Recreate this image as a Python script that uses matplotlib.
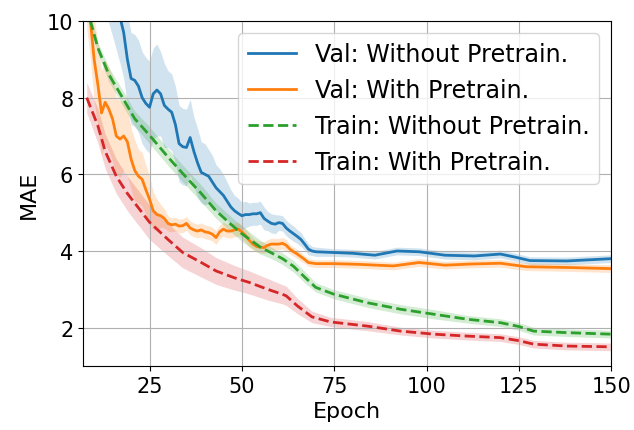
import numpy as np
import matplotlib.pyplot as plt

# ---- data ----
val_wo_ep = [8, 12, 15, 17, 18, 19, 20, 21, 22, 23, 24, 25, 26, 27, 28, 29, 30, 31, 32, 33,
             34, 35, 36, 37, 38, 39, 40, 41, 42, 43, 44, 45, 46, 47, 48, 49, 50, 51, 52, 53,
             54, 55, 56, 57, 58, 59, 60, 61, 62, 63, 64, 65, 66, 67, 68, 69, 70, 75, 80, 86,
             92, 98, 105, 113, 120, 124, 128, 138, 150]
val_wo = [13.5, 11.8, 10.8, 10.1, 9.7, 9.0, 8.5, 8.45, 8.3, 8.0, 7.85, 7.75, 8.1, 8.2, 8.1, 7.8, 7.7, 7.62, 7.3, 6.8,
          6.72, 6.7, 6.96, 6.6, 6.3, 6.05, 6.0, 5.95, 5.8, 5.65, 5.55, 5.45, 5.3, 5.15, 5.05, 4.98, 4.92, 4.95, 4.95, 4.97,
          4.97, 5.0, 4.85, 4.78, 4.72, 4.7, 4.74, 4.72, 4.6, 4.52, 4.45, 4.38, 4.3, 4.18, 4.05, 4.0, 3.98, 3.96, 3.94, 3.89,
          4.0, 3.98, 3.89, 3.87, 3.92, 3.84, 3.75, 3.74, 3.8]
val_wo_sd = [1.2, 1.2, 1.2, 1.2, 1.2, 1.2, 1.2, 1.2, 1.2, 1.2, 1.2, 1.2, 1.2, 1.2, 1.1, 1.1, 1.0, 1.0, 1.0, 1.0,
             1.0, 1.0, 1.0, 0.9, 0.9, 0.8, 0.8, 0.7, 0.7, 0.6, 0.6, 0.55, 0.5, 0.45, 0.4, 0.4, 0.35, 0.35, 0.3, 0.3,
             0.3, 0.3, 0.3, 0.25, 0.25, 0.25, 0.2, 0.2, 0.2, 0.2, 0.2, 0.18, 0.18, 0.15, 0.15, 0.12, 0.12, 0.1, 0.1, 0.1,
             0.1, 0.1, 0.1, 0.1, 0.1, 0.1, 0.1, 0.1, 0.1]

val_w_ep = [8, 9, 10, 11, 12, 13, 14, 15, 16, 17, 18, 19, 20, 21, 22, 23, 24, 25, 26, 27,
            28, 29, 30, 31, 32, 33, 34, 35, 36, 37, 38, 39, 40, 41, 42, 43, 44, 45, 46, 47,
            48, 49, 50, 51, 52, 53, 54, 55, 56, 57, 58, 59, 60, 61, 62, 63, 64, 65, 66, 67,
            68, 70, 75, 82, 91, 98, 105, 112, 120, 127, 138, 150]
val_w = [10.8, 10.0, 9.0, 8.35, 7.6, 7.88, 7.7, 7.44, 7.0, 6.92, 7.0, 6.85, 6.4, 6.1, 5.95, 5.87, 5.6, 5.35, 5.05, 4.95,
         4.92, 4.85, 4.72, 4.68, 4.7, 4.65, 4.66, 4.72, 4.6, 4.55, 4.52, 4.55, 4.5, 4.48, 4.44, 4.35, 4.5, 4.57, 4.52, 4.52,
         4.55, 4.57, 4.5, 4.4, 4.28, 4.18, 4.12, 4.1, 4.09, 4.15, 4.18, 4.18, 4.18, 4.2, 4.15, 4.05, 3.98, 3.92, 3.85, 3.78,
         3.7, 3.67, 3.67, 3.65, 3.61, 3.7, 3.63, 3.66, 3.68, 3.59, 3.57, 3.54]
val_w_sd = [1.0, 1.0, 1.1, 1.1, 1.1, 1.1, 1.1, 1.1, 1.0, 1.0, 0.9, 0.9, 0.8, 0.8, 0.7, 0.7, 0.65, 0.6, 0.5, 0.4,
            0.3, 0.25, 0.2, 0.18, 0.18, 0.18, 0.18, 0.18, 0.18, 0.18, 0.18, 0.18, 0.18, 0.18, 0.18, 0.18, 0.18, 0.18, 0.18, 0.18,
            0.18, 0.18, 0.18, 0.18, 0.18, 0.15, 0.15, 0.15, 0.15, 0.15, 0.15, 0.15, 0.15, 0.15, 0.15, 0.12, 0.12, 0.12, 0.12, 0.1,
            0.1, 0.1, 0.1, 0.1, 0.1, 0.1, 0.1, 0.1, 0.1, 0.1, 0.1, 0.1]

train_wo_ep = [8, 9, 11, 14, 18, 21, 25, 30, 34, 39, 43, 47, 50, 55, 58, 61, 64, 67, 70, 75,
               84, 93, 102, 111, 120, 125, 129, 138, 150]
train_wo = [10.4, 10.0, 9.3, 8.6, 7.95, 7.45, 7.02, 6.45, 6.02, 5.5, 5.05, 4.7, 4.45, 4.1, 3.95, 3.8, 3.6, 3.32, 3.05, 2.87,
            2.65, 2.48, 2.35, 2.22, 2.13, 2.03, 1.91, 1.87, 1.83]
train_wo_sd = [0.15, 0.15, 0.15, 0.18, 0.2, 0.2, 0.22, 0.22, 0.22, 0.22, 0.2, 0.2, 0.2, 0.18, 0.15, 0.15, 0.15, 0.15, 0.12, 0.12,
               0.12, 0.12, 0.12, 0.1, 0.1, 0.1, 0.1, 0.1, 0.1]

train_w_ep = [8, 11, 13, 16, 19, 21, 25, 30, 34, 39, 43, 48, 52, 57, 61, 62, 65, 69, 74, 84,
              93, 102, 111, 120, 125, 129, 138, 150]
train_w = [8.0, 7.27, 6.6, 5.95, 5.5, 5.25, 4.75, 4.3, 3.96, 3.7, 3.48, 3.3, 3.18, 3.0, 2.87, 2.83, 2.57, 2.28, 2.15, 2.04,
           1.91, 1.83, 1.78, 1.74, 1.66, 1.57, 1.52, 1.5]
train_w_sd = [0.4, 0.45, 0.45, 0.45, 0.45, 0.45, 0.45, 0.42, 0.4, 0.38, 0.35, 0.32, 0.3, 0.28, 0.25, 0.25, 0.2, 0.15, 0.12, 0.12,
              0.1, 0.1, 0.1, 0.1, 0.1, 0.1, 0.1, 0.1]

series = [
    ("Val: Without Pretrain.", val_wo_ep, val_wo, val_wo_sd, "tab:blue", "-"),
    ("Val: With Pretrain.", val_w_ep, val_w, val_w_sd, "tab:orange", "-"),
    ("Train: Without Pretrain.", train_wo_ep, train_wo, train_wo_sd, "tab:green", "--"),
    ("Train: With Pretrain.", train_w_ep, train_w, train_w_sd, "tab:red", "--"),
]

plt.rcParams["font.size"] = 15
fig, ax = plt.subplots(figsize=(6.34, 4.31), dpi=100)
fig.subplots_adjust(left=0.131, right=0.964, top=0.949, bottom=0.1485)

for lab, ep, m, sd, col, ls in series:
    ep = np.array(ep); m = np.array(m); sd = np.array(sd)
    ax.plot(ep, m, color=col, ls=ls, lw=2, label=lab)
    ax.fill_between(ep, m - sd, m + sd, color=col, alpha=0.2, linewidth=0)

ax.set_xlim(7, 150)
ax.set_ylim(1, 10)
ax.set_xticks([25, 50, 75, 100, 125, 150])
ax.set_yticks([2, 4, 6, 8, 10])
ax.set_xlabel("Epoch", fontsize=16)
ax.set_ylabel("MAE", fontsize=16, labelpad=6)
ax.grid(True)
ax.legend(loc="upper right", fontsize=17.2, labelspacing=0.5)

plt.savefig("out.png", dpi=100)
